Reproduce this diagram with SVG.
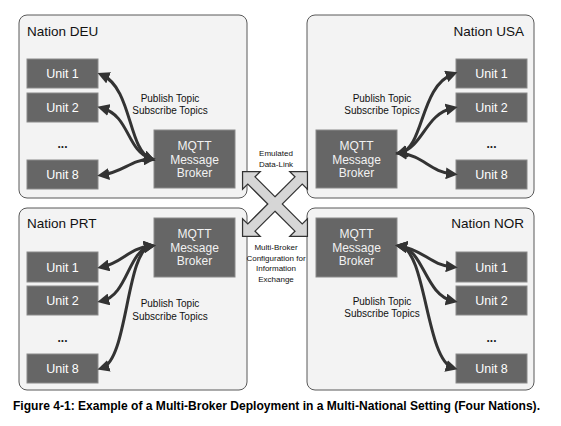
<svg xmlns="http://www.w3.org/2000/svg" width="561" height="426" viewBox="0 0 561 426">
<style>
.panel{fill:#f3f3f3;stroke:#595959;stroke-width:1}
.unit{fill:#666;stroke:#8a8a8a;stroke-width:1}
.ut{font-family:"Liberation Sans",Arial,sans-serif;font-size:12.5px;fill:#fff;text-anchor:middle}
.bt{font-family:"Liberation Sans",Arial,sans-serif;font-size:12px;fill:#f2f2f2;text-anchor:middle}
.nt{font-family:"Liberation Sans",Arial,sans-serif;font-size:13.5px;fill:#111}
.pt{font-family:"Liberation Sans",Arial,sans-serif;font-size:10px;fill:#111;text-anchor:middle}
.ct{font-family:"Liberation Sans",Arial,sans-serif;font-size:8px;fill:#111;text-anchor:middle}
.dots{font-family:"Liberation Sans",Arial,sans-serif;font-size:12px;fill:#222;text-anchor:middle;font-weight:bold}
.con{fill:none;stroke:#333;stroke-width:3;marker-start:url(#ah);marker-end:url(#ah)}
.xs{fill:none;stroke:#333;stroke-width:2.5}
.xf{fill:#d6d6d6;stroke:none}
</style>
<defs>
<marker id="ah" viewBox="0 0 10 10" refX="6" refY="5" markerWidth="4" markerHeight="4" orient="auto-start-reverse">
<path d="M0,0 L10,5 L0,10 z" fill="#333"/>
</marker>
<polygon id="dbl" points="-45,0 -34,-11 -34,-4.5 34,-4.5 34,-11 45,0 34,11 34,4.5 -34,4.5 -34,11"/>
</defs>
<g id="nation-deu">
<rect class="panel" x="19" y="15" width="228" height="183" rx="8"/>
<text class="nt" x="27" y="36">Nation DEU</text>
<text class="pt" x="170" y="102">Publish Topic</text>
<text class="pt" x="170" y="114">Subscribe Topics</text>
</g>
<g id="nation-usa">
<rect class="panel" x="307" y="15" width="227" height="183" rx="8"/>
<text class="nt" x="524" y="36" text-anchor="end">Nation USA</text>
<text class="pt" x="382" y="102">Publish Topic</text>
<text class="pt" x="382" y="114">Subscribe Topics</text>
</g>
<g id="nation-prt">
<rect class="panel" x="19" y="208" width="228" height="182" rx="8"/>
<text class="nt" x="27" y="228">Nation PRT</text>
<text class="pt" x="170" y="307">Publish Topic</text>
<text class="pt" x="170" y="320">Subscribe Topics</text>
</g>
<g id="nation-nor">
<rect class="panel" x="307" y="208" width="227" height="182" rx="8"/>
<text class="nt" x="524" y="228" text-anchor="end">Nation NOR</text>
<text class="pt" x="382" y="305">Publish Topic</text>
<text class="pt" x="382" y="317">Subscribe Topics</text>
</g>
<g id="deu-unit1"><rect class="unit" x="27" y="59" width="71" height="29"/><text class="ut" x="62.5" y="78">Unit 1</text></g>
<g id="deu-unit2"><rect class="unit" x="27" y="93" width="71" height="29"/><text class="ut" x="62.5" y="112">Unit 2</text></g>
<g id="deu-dots"><text class="dots" x="62.5" y="148">...</text></g>
<g id="deu-unit8"><rect class="unit" x="27" y="160" width="71" height="29"/><text class="ut" x="62.5" y="179">Unit 8</text></g>
<g id="deu-broker"><rect class="unit" x="154" y="130" width="81" height="58"/><text class="bt" x="194.5" y="150">MQTT</text><text class="bt" x="194.5" y="163.5">Message</text><text class="bt" x="194.5" y="177">Broker</text></g>
<g id="usa-unit1"><rect class="unit" x="456" y="59" width="71" height="29"/><text class="ut" x="491.5" y="78">Unit 1</text></g>
<g id="usa-unit2"><rect class="unit" x="456" y="93" width="71" height="29"/><text class="ut" x="491.5" y="112">Unit 2</text></g>
<g id="usa-dots"><text class="dots" x="491.5" y="148">...</text></g>
<g id="usa-unit8"><rect class="unit" x="456" y="160" width="71" height="29"/><text class="ut" x="491.5" y="179">Unit 8</text></g>
<g id="usa-broker"><rect class="unit" x="316" y="130" width="81" height="58"/><text class="bt" x="356.5" y="150">MQTT</text><text class="bt" x="356.5" y="163.5">Message</text><text class="bt" x="356.5" y="177">Broker</text></g>
<g id="prt-unit1"><rect class="unit" x="27" y="252" width="71" height="30"/><text class="ut" x="62.5" y="271.5">Unit 1</text></g>
<g id="prt-unit2"><rect class="unit" x="27" y="286" width="71" height="29"/><text class="ut" x="62.5" y="305">Unit 2</text></g>
<g id="prt-dots"><text class="dots" x="62.5" y="342">...</text></g>
<g id="prt-unit8"><rect class="unit" x="27" y="354" width="71" height="29"/><text class="ut" x="62.5" y="373">Unit 8</text></g>
<g id="prt-broker"><rect class="unit" x="154" y="218" width="81" height="59"/><text class="bt" x="194.5" y="238">MQTT</text><text class="bt" x="194.5" y="251.5">Message</text><text class="bt" x="194.5" y="265">Broker</text></g>
<g id="nor-unit1"><rect class="unit" x="456" y="252" width="71" height="30"/><text class="ut" x="491.5" y="271.5">Unit 1</text></g>
<g id="nor-unit2"><rect class="unit" x="456" y="286" width="71" height="29"/><text class="ut" x="491.5" y="305">Unit 2</text></g>
<g id="nor-dots"><text class="dots" x="491.5" y="342">...</text></g>
<g id="nor-unit8"><rect class="unit" x="456" y="354" width="71" height="29"/><text class="ut" x="491.5" y="373">Unit 8</text></g>
<g id="nor-broker"><rect class="unit" x="316" y="218" width="81" height="59"/><text class="bt" x="356.5" y="238">MQTT</text><text class="bt" x="356.5" y="251.5">Message</text><text class="bt" x="356.5" y="265">Broker</text></g>
<g id="connectors">
<path class="con" d="M151,159 C128,150 132,88 102,75"/>
<path class="con" d="M151,159 C126,150 130,116 102,108"/>
<path class="con" d="M151,159 C130,160 124,172 102,175"/>
<path class="con" d="M400,153 C424,148 420,86 453,74"/>
<path class="con" d="M400,153 C424,146 425,114 453,108"/>
<path class="con" d="M400,153 C424,156 430,172 453,174"/>
<path class="con" d="M151,246 C128,248 124,262 102,267"/>
<path class="con" d="M151,246 C128,250 128,295 102,301"/>
<path class="con" d="M151,246 C126,250 128,360 102,368"/>
<path class="con" d="M400,246 C424,250 430,265 453,267"/>
<path class="con" d="M400,246 C424,250 425,295 453,301"/>
<path class="con" d="M400,246 C426,250 426,360 453,368"/>
</g>
<g id="datalink">
<use href="#dbl" class="xs" transform="translate(275,204) rotate(45)"/>
<use href="#dbl" class="xs" transform="translate(275,204) rotate(-45)"/>
<use href="#dbl" class="xf" transform="translate(275,204) rotate(45)"/>
<use href="#dbl" class="xf" transform="translate(275,204) rotate(-45)"/>
<text class="ct" x="276" y="156">Emulated</text>
<text class="ct" x="276" y="167">Data-Link</text>
<text class="ct" x="276" y="250">Multi-Broker</text>
<text class="ct" x="276" y="261">Configuration for</text>
<text class="ct" x="276" y="271">Information</text>
<text class="ct" x="276" y="282">Exchange</text>
</g>
<text x="13" y="410" font-family="Liberation Sans,Arial,sans-serif" font-size="12" font-weight="bold" fill="#000" textLength="527" lengthAdjust="spacingAndGlyphs">Figure 4-1: Example of a Multi-Broker Deployment in a Multi-National Setting (Four Nations).</text>
</svg>
